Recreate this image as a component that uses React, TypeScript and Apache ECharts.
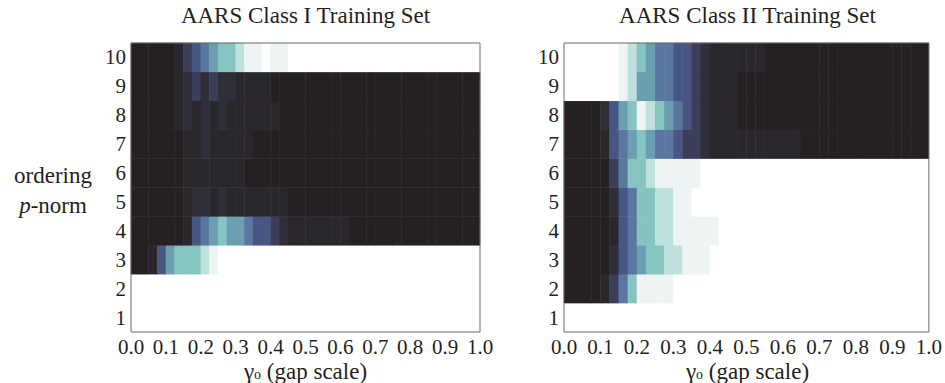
import React, { useEffect, useRef } from "react";
import * as echarts from "echarts";

const TITLES = ["AARS Class I Training Set", "AARS Class II Training Set"];
const P_NORMS = ["1", "2", "3", "4", "5", "6", "7", "8", "9", "10"];
const GAP_BINS = [
  "0.000", "0.025", "0.050", "0.075", "0.100", "0.125", "0.150", "0.175", "0.200", "0.225",
  "0.250", "0.275", "0.300", "0.325", "0.350", "0.375", "0.400", "0.425", "0.450", "0.475",
  "0.500", "0.525", "0.550", "0.575", "0.600", "0.625", "0.650", "0.675", "0.700", "0.725",
  "0.750", "0.775", "0.800", "0.825", "0.850", "0.875", "0.900", "0.925", "0.950", "0.975",
];

// level 0 = dark ... 10 = white
const LEVEL_COLORS = [
  "#252122", "#2a272c", "#302e39", "#3a3e58", "#475683", "#5977a0",
  "#6a9eb0", "#84c5c1", "#bfe0dc", "#eef3f3", "#ffffff",
];

// Class I, rows p-norm 1..10, 40 gap bins each
const CLASS1_P1 = [10,10,10,10,10,10,10,10,10,10,10,10,10,10,10,10,10,10,10,10,10,10,10,10,10,10,10,10,10,10,10,10,10,10,10,10,10,10,10,10];
const CLASS1_P2 = [10,10,10,10,10,10,10,10,10,10,10,10,10,10,10,10,10,10,10,10,10,10,10,10,10,10,10,10,10,10,10,10,10,10,10,10,10,10,10,10];
const CLASS1_P3 = [0,0,1,4,6,7,7,7,8,9,10,10,10,10,10,10,10,10,10,10,10,10,10,10,10,10,10,10,10,10,10,10,10,10,10,10,10,10,10,10];
const CLASS1_P4 = [0,0,0,0,0,0,1,4,5,6,7,6,6,5,4,4,3,2,1,1,1,1,1,1,1,0,0,0,0,0,0,0,0,0,0,0,0,0,0,0];
const CLASS1_P5 = [0,0,0,0,0,0,1,2,2,1,2,1,1,1,1,1,1,1,0,0,0,0,0,0,0,0,0,0,0,0,0,0,0,0,0,0,0,0,0,0];
const CLASS1_P6 = [0,0,0,0,0,0,1,1,1,1,1,1,1,0,0,0,0,0,0,0,0,0,0,0,0,0,0,0,0,0,0,0,0,0,0,0,0,0,0,0];
const CLASS1_P7 = [0,0,0,0,0,0,1,1,2,1,1,1,1,1,0,0,0,0,0,0,0,0,0,0,0,0,0,0,0,0,0,0,0,0,0,0,0,0,0,0];
const CLASS1_P8 = [0,0,0,0,0,1,2,1,2,1,2,1,1,1,1,1,1,0,0,0,0,0,0,0,0,0,0,0,0,0,0,0,0,0,0,0,0,0,0,0];
const CLASS1_P9 = [0,0,0,0,0,1,2,3,2,3,2,2,1,1,1,1,0,0,0,0,0,0,0,0,0,0,0,0,0,0,0,0,0,0,0,0,0,0,0,0];
const CLASS1_P10 = [0,0,0,0,0,1,3,4,5,6,7,7,8,9,9,10,9,9,10,10,10,10,10,10,10,10,10,10,10,10,10,10,10,10,10,10,10,10,10,10];

// Class II
const CLASS2_P1 = [10,10,10,10,10,10,10,10,10,10,10,10,10,10,10,10,10,10,10,10,10,10,10,10,10,10,10,10,10,10,10,10,10,10,10,10,10,10,10,10];
const CLASS2_P2 = [0,0,0,0,1,3,5,7,9,9,9,9,10,10,10,10,10,10,10,10,10,10,10,10,10,10,10,10,10,10,10,10,10,10,10,10,10,10,10,10];
const CLASS2_P3 = [0,0,0,0,0,2,4,5,6,7,7,8,8,9,9,9,10,10,10,10,10,10,10,10,10,10,10,10,10,10,10,10,10,10,10,10,10,10,10,10];
const CLASS2_P4 = [0,0,0,0,0,1,4,5,7,7,8,8,9,9,9,9,9,10,10,10,10,10,10,10,10,10,10,10,10,10,10,10,10,10,10,10,10,10,10,10];
const CLASS2_P5 = [0,0,0,0,0,2,4,5,7,7,8,8,9,9,10,10,10,10,10,10,10,10,10,10,10,10,10,10,10,10,10,10,10,10,10,10,10,10,10,10];
const CLASS2_P6 = [0,0,0,0,0,3,5,7,7,8,9,9,9,9,9,10,10,10,10,10,10,10,10,10,10,10,10,10,10,10,10,10,10,10,10,10,10,10,10,10];
const CLASS2_P7 = [0,0,0,0,1,4,5,6,7,6,5,5,4,3,3,2,1,1,1,1,1,1,1,1,1,1,0,0,0,0,0,0,0,0,0,0,0,0,0,0];
const CLASS2_P8 = [0,0,0,0,2,4,6,7,9,8,7,6,5,4,3,2,1,1,1,0,0,0,0,0,0,0,0,0,0,0,0,0,0,0,0,0,0,0,0,0];
const CLASS2_P9 = [10,10,10,10,10,10,9,8,6,6,5,5,4,4,3,2,1,1,1,0,0,0,0,0,0,0,0,0,0,0,0,0,0,0,0,0,0,0,0,0];
const CLASS2_P10 = [10,10,10,10,10,10,9,8,7,6,5,5,4,4,3,2,1,1,1,1,1,1,0,0,0,0,0,0,0,0,0,0,0,0,0,0,0,0,0,0];

const CLASS1_ROWS = [CLASS1_P1, CLASS1_P2, CLASS1_P3, CLASS1_P4, CLASS1_P5, CLASS1_P6, CLASS1_P7, CLASS1_P8, CLASS1_P9, CLASS1_P10];
const CLASS2_ROWS = [CLASS2_P1, CLASS2_P2, CLASS2_P3, CLASS2_P4, CLASS2_P5, CLASS2_P6, CLASS2_P7, CLASS2_P8, CLASS2_P9, CLASS2_P10];

const FONT = "'Liberation Serif', 'Times New Roman', serif";
const INK = "#231f20";

function toCells(rows: number[][]) {
  const out: [number, number, number][] = [];
  rows.forEach((row, y) => row.forEach((v, x) => out.push([x, y, v])));
  return out;
}

const GRIDS = [
  { left: 131, top: 43, width: 349, height: 289 },
  { left: 564, top: 43, width: 367, height: 289 },
];

export default function App() {
  const ref = useRef<HTMLDivElement>(null);
  useEffect(() => {
    document.body.style.margin = "0";
    const chart = echarts.init(ref.current!, undefined, { renderer: "svg" });
    const xAxes: any[] = [];
    const yAxes: any[] = [];
    GRIDS.forEach((_, g) => {
      xAxes.push({
        type: "category", gridIndex: g, data: GAP_BINS, show: false,
      });
      xAxes.push({
        type: "value", gridIndex: g, position: "bottom", min: 0, max: 1, interval: 0.1,
        axisLine: { show: false }, axisTick: { show: false }, splitLine: { show: false },
        axisLabel: {
          color: INK, fontFamily: FONT, fontSize: 21, lineHeight: 20, margin: 5,
          formatter: (v: number) => v.toFixed(1),
        },
      });
      yAxes.push({
        type: "category", gridIndex: g, data: P_NORMS,
        axisLine: { show: false }, axisTick: { show: false }, splitLine: { show: false },
        axisLabel: { color: INK, fontFamily: FONT, fontSize: 21, lineHeight: 20, margin: 5 },
      });
    });
    const graphics: any[] = [];
    GRIDS.forEach((gr, g) => {
      const cx = gr.left + gr.width / 2;
      graphics.push({
        type: "text", x: cx, y: 15,
        style: { text: TITLES[g], fill: INK, font: `23px ${FONT}`, align: "center", verticalAlign: "middle" },
      });
      graphics.push({
        type: "text", x: cx, y: 371,
        style: {
          text: "{g|γ}{s|o}{n| (gap scale)}",
          align: "center", verticalAlign: "middle",
          rich: {
            g: { fontFamily: FONT, fontSize: 23, fill: INK, lineHeight: 22, verticalAlign: "top" },
            s: { fontFamily: FONT, fontSize: 14, fill: INK, lineHeight: 14, padding: [7, 0, 0, 0], verticalAlign: "top" },
            n: { fontFamily: FONT, fontSize: 23, fill: INK, lineHeight: 22, verticalAlign: "top" },
          },
        },
      });
    });
    graphics.push({
      type: "text", x: 53, y: 190,
      style: {
        text: "{a|ordering}\n{i|p}{a|-norm}",
        align: "center", verticalAlign: "middle",
        rich: {
          a: { fontFamily: FONT, fontSize: 23, fill: INK, lineHeight: 30 },
          i: { fontFamily: FONT, fontSize: 23, fill: INK, lineHeight: 30, fontStyle: "italic" },
        },
      },
    });
    chart.setOption({
      animation: false,
      backgroundColor: "#ffffff",
      grid: GRIDS.map((gr) => ({ ...gr, show: true, z: 5, borderColor: "#6b6b6b", borderWidth: 1, backgroundColor: "transparent" })),
      xAxis: xAxes,
      yAxis: yAxes,
      visualMap: {
        type: "continuous", show: false, min: 0, max: 10, seriesIndex: [0, 1],
        inRange: { color: LEVEL_COLORS },
      },
      series: [
        { type: "heatmap", xAxisIndex: 0, yAxisIndex: 0, data: toCells(CLASS1_ROWS), itemStyle: { borderWidth: 0 }, emphasis: { disabled: true } },
        { type: "heatmap", xAxisIndex: 2, yAxisIndex: 1, data: toCells(CLASS2_ROWS), itemStyle: { borderWidth: 0 }, emphasis: { disabled: true } },
      ],
      graphic: graphics,
    });
    return () => chart.dispose();
  }, []);
  return <div ref={ref} style={{ width: 945, height: 383 }} />;
}
